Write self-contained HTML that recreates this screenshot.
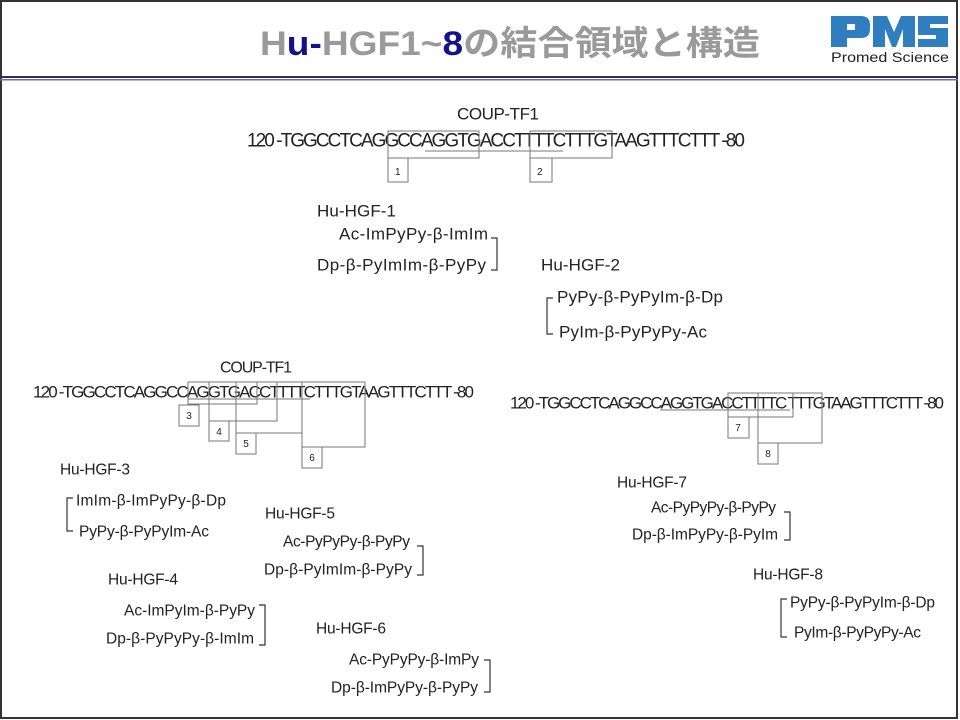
<!DOCTYPE html>
<html><head><meta charset="utf-8"><style>
html,body{margin:0;padding:0;background:#fff;width:960px;height:720px;overflow:hidden}
svg text{font-family:"Liberation Sans","Noto Sans CJK JP",sans-serif;fill:#222}
</style></head><body>
<svg width="960" height="720" viewBox="0 0 960 720" xmlns="http://www.w3.org/2000/svg">
<rect x="1" y="1" width="956" height="717" fill="none" stroke="#333" stroke-width="2"/>
<rect x="0" y="76" width="958" height="2" fill="#2a2f6e"/>
<rect x="0" y="79" width="958" height="1.5" fill="#6a6fa0"/>
<text x="260" y="55" font-size="34" font-weight="bold" textLength="500" lengthAdjust="spacingAndGlyphs" style="fill:#9a9a9a"><tspan style="fill:#9a9a9a">H</tspan><tspan style="fill:#12128a">u-</tspan><tspan style="fill:#9a9a9a">HGF1~</tspan><tspan style="fill:#12128a">8</tspan><tspan style="fill:#9a9a9a">の結合領域と構造</tspan></text>
<g fill="#2f7fc0">
<path d="M831 16h30q9 0 9 9v4q0 9-9 9h-14v9h-16z M847 24v6h8v-6z"/>
<path d="M873 16h14l7 16l7-16h14v31h-12v-18l-7 18h-4l-7-18v18h-12z"/>
<path d="M918 16h30v8h-18v4h18v19h-30v-8h18v-4h-18z"/>
</g>
<text x="831" y="62" font-size="14" textLength="118" lengthAdjust="spacingAndGlyphs">Promed Science</text>
<g font-size="18" dominant-baseline="central" lengthAdjust="spacingAndGlyphs">
<text x="457" y="114" font-size="17" textLength="82">COUP-TF1</text>
<text x="247" y="141" font-size="19" textLength="498">120 -TGGCCTCAGGCCAGGTGACCTTTTCTTTGTAAGTTTCTTT -80</text>
</g>
<g fill="none" stroke="#777" stroke-width="1">
<rect x="388" y="131" width="91" height="27"/><rect x="388" y="158" width="20" height="24"/>
<rect x="530" y="131" width="82" height="27"/><rect x="530" y="158" width="22" height="24"/>
<line x1="425" y1="151" x2="563" y2="151"/>
</g>
<text x="395" y="175" font-size="10">1</text><text x="537" y="175" font-size="10">2</text>
<g font-size="17" dominant-baseline="central" lengthAdjust="spacingAndGlyphs">
<text x="317" y="211" textLength="79">Hu-HGF-1</text>
<text x="339" y="234" textLength="149">Ac-ImPyPy-β-ImIm</text>
<text x="317" y="265" textLength="169">Dp-β-PyImIm-β-PyPy</text>
<text x="541" y="265" textLength="79">Hu-HGF-2</text>
<text x="557" y="297" textLength="166">PyPy-β-PyPyIm-β-Dp</text>
<text x="559" y="332" textLength="148">PyIm-β-PyPyPy-Ac</text>
</g>
<g fill="none" stroke="#333" stroke-width="1.2">
<polyline points="491,238 497,238 497,270 491,270"/>
<polyline points="553,298 547,298 547,334 553,334"/>
</g>
<g dominant-baseline="central" lengthAdjust="spacingAndGlyphs">
<text x="220" y="368" font-size="16" textLength="72">COUP-TF1</text>
<text x="33" y="392" font-size="17" textLength="441">120 -TGGCCTCAGGCCAGGTGACCTTTTCTTTGTAAGTTTCTTT -80</text>
<text x="510" y="403" font-size="17" textLength="434">120 -TGGCCTCAGGCCAGGTGACCTTTTC TTTGTAAGTTTCTTT -80</text>
</g>
<g fill="none" stroke="#777" stroke-width="1">
<rect x="188" y="382" width="69" height="22"/><rect x="179" y="405" width="20" height="21"/>
<rect x="209" y="382" width="68" height="39"/><rect x="209" y="421" width="20" height="20"/>
<rect x="236" y="382" width="66" height="51"/><rect x="236" y="433" width="20" height="21"/>
<rect x="302" y="382" width="63" height="65"/><rect x="302" y="447" width="20" height="21"/>
<line x1="188" y1="399" x2="310" y2="399"/>
<rect x="728" y="393" width="65" height="24"/><rect x="728" y="417" width="21" height="21"/>
<rect x="758" y="393" width="64" height="50"/><rect x="758" y="443" width="20" height="21"/>
<line x1="660" y1="410" x2="790" y2="410"/>
</g>
<g font-size="10" text-anchor="middle">
<text x="189" y="419">3</text><text x="219" y="435">4</text><text x="246" y="447">5</text><text x="312" y="461">6</text>
<text x="738" y="431">7</text><text x="768" y="457">8</text>
</g>
<g font-size="15.5" dominant-baseline="central" lengthAdjust="spacingAndGlyphs">
<text x="60" y="470" textLength="70">Hu-HGF-3</text>
<text x="76" y="501" textLength="150">ImIm-β-ImPyPy-β-Dp</text>
<text x="79" y="532" textLength="130">PyPy-β-PyPyIm-Ac</text>
<text x="265" y="514" textLength="70">Hu-HGF-5</text>
<text x="283" y="542" textLength="127">Ac-PyPyPy-β-PyPy</text>
<text x="264" y="570" textLength="148">Dp-β-PyImIm-β-PyPy</text>
<text x="108" y="580" textLength="70">Hu-HGF-4</text>
<text x="124" y="611" textLength="131">Ac-ImPyIm-β-PyPy</text>
<text x="106" y="639" textLength="148">Dp-β-PyPyPy-β-ImIm</text>
<text x="316" y="629" textLength="70">Hu-HGF-6</text>
<text x="349" y="660" textLength="130">Ac-PyPyPy-β-ImPy</text>
<text x="331" y="688" textLength="147">Dp-β-ImPyPy-β-PyPy</text>
<text x="617" y="483" textLength="70">Hu-HGF-7</text>
<text x="651" y="508" textLength="125">Ac-PyPyPy-β-PyPy</text>
<text x="632" y="535" textLength="146">Dp-β-ImPyPy-β-PyIm</text>
<text x="753" y="575" textLength="70">Hu-HGF-8</text>
<text x="790" y="603" textLength="145">PyPy-β-PyPyIm-β-Dp</text>
<text x="794" y="633" textLength="127">PyIm-β-PyPyPy-Ac</text>
</g>
<g fill="none" stroke="#333" stroke-width="1.2">
<polyline points="73,498 67,498 67,531 73,531"/>
<polyline points="417,546 423,546 423,575 417,575"/>
<polyline points="259,605 265,605 265,645 259,645"/>
<polyline points="484,660 490,660 490,692 484,692"/>
<polyline points="784,512 790,512 790,540 784,540"/>
<polyline points="787,599 781,599 781,637 787,637"/>
</g>
</svg>
</body></html>
